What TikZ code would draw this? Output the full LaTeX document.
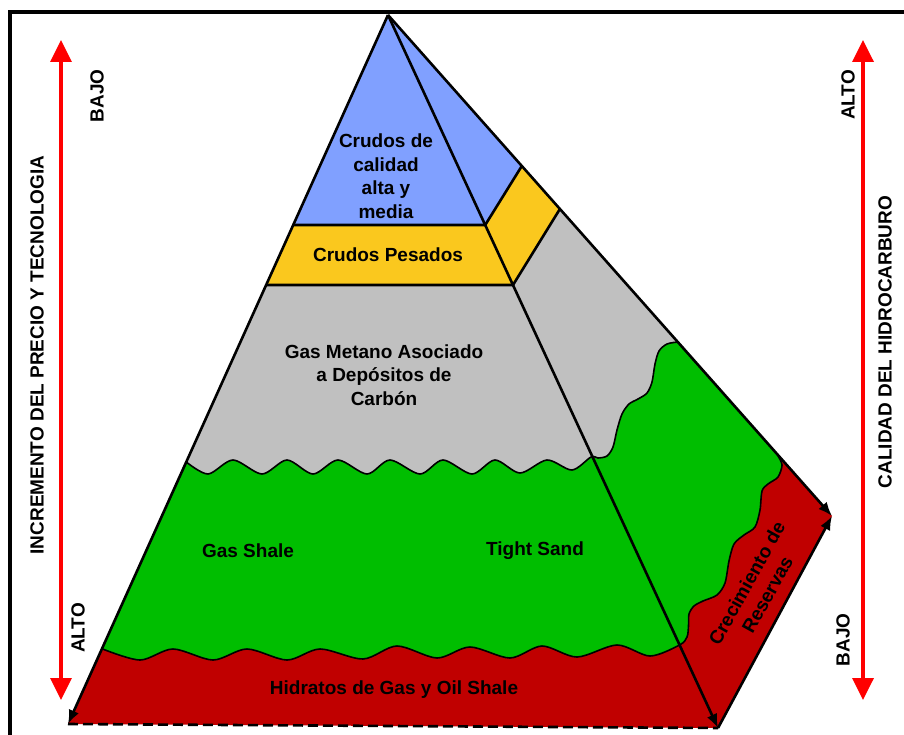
\documentclass[tikz,border=0pt]{standalone}
\usepackage{fontspec}
\setmainfont{Liberation Sans}
\usetikzlibrary{arrows.meta}
\definecolor{cblue}{RGB}{128,160,255}
\definecolor{cyellow}{RGB}{250,200,30}
\definecolor{cgray}{RGB}{192,192,192}
\definecolor{cgreen}{RGB}{0,190,0}
\definecolor{cred}{RGB}{192,0,0}
\definecolor{carrow}{RGB}{255,0,0}
\begin{document}
\begin{tikzpicture}[x=1pt,y=-1pt,
  lbl/.style={font=\fontsize{19}{23.5}\selectfont\bfseries, align=center, inner sep=0pt},
  edge/.style={line width=2.6pt, line join=round},
  edgearrow/.style={edge, -{Latex[length=14pt,width=11pt]}},
  wave/.style={line width=1.6pt, line join=round},
  redarrow/.style={draw=carrow, line width=3.5pt, {Triangle[length=22pt,width=21pt]}-{Triangle[length=22pt,width=21pt]}},
  frameline/.style={line width=4pt}]
\useasboundingbox (0,0) rectangle (904,735);
\fill[white] (0,0) rectangle (904,735);
% frame
\draw[frameline] (10,740) -- (10,12) -- (910,12);
% key points
\coordinate (apex) at (388,15);
\coordinate (L) at (68,724);
\coordinate (M) at (718,728);
\coordinate (R) at (832,516);
% layered fills
\fill[cred] (apex) -- (L) -- (M) -- (R) -- cycle;
\fill[cgreen] (apex) -- (102.6,649) -- plot[smooth] coordinates {(102.6,649) (140,660) (173,649) (213,660) (247,649) (287,660) (320,649) (363,659) (397,646) (437,658) (470,647) (510,658) (542,646) (577,657) (617,645) (650,656) (679.5,645) (687,637) (688.5,626) (689,614) (694,606) (703,601) (717,595) (725,583) (729,561) (734,544) (744,535) (755,527) (760,510) (762,491) (768,484) (778,477) (782,465) (778,456)} -- cycle;
\fill[cgray] (apex) -- (186.3,462) -- plot[smooth] coordinates {(186.3,462) (208,474) (233,460) (262,474) (287,460) (313,474) (338,460) (367,474) (390,460) (420,474) (443,460) (472,474) (495,460) (520,473) (547,460) (572,470) (591,457) (598,458) (607,456) (613,447) (617,430) (622,414) (629,404) (638,399) (647,393) (652,382) (655,364) (659,351) (667,344) (677.8,342)} -- cycle;
\fill[cyellow] (apex) -- (266.1,285) -- (513,285) -- (559.9,209) -- cycle;
\fill[cblue] (apex) -- (293.2,225) -- (485.2,225) -- (521.8,166) -- cycle;
% wave outlines
\draw[wave] plot[smooth] coordinates {(102.6,649) (140,660) (173,649) (213,660) (247,649) (287,660) (320,649) (363,659) (397,646) (437,658) (470,647) (510,658) (542,646) (577,657) (617,645) (650,656) (679.5,645) (687,637) (688.5,626) (689,614) (694,606) (703,601) (717,595) (725,583) (729,561) (734,544) (744,535) (755,527) (760,510) (762,491) (768,484) (778,477) (782,465) (778,456)};
\draw[wave] plot[smooth] coordinates {(186.3,462) (208,474) (233,460) (262,474) (287,460) (313,474) (338,460) (367,474) (390,460) (420,474) (443,460) (472,474) (495,460) (520,473) (547,460) (572,470) (591,457) (598,458) (607,456) (613,447) (617,430) (622,414) (629,404) (638,399) (647,393) (652,382) (655,364) (659,351) (667,344) (677.8,342)};
% band lines
\draw[edge] (293.2,225) -- (485.2,225) -- (521.8,166);
\draw[edge] (266.1,285) -- (513,285) -- (559.9,209);
% pyramid edges
\draw[edge, dashed, dash pattern=on 10pt off 5pt] (L) -- (M);
\draw[edgearrow] (apex) -- (L);
\draw[edgearrow] (apex) -- (M);
\draw[edgearrow] (apex) -- (R);
\draw[edgearrow] (M) -- (R);
% red arrows
\coordinate (la1) at (61,40);
\coordinate (la2) at (61,700);
\coordinate (ra1) at (863,40);
\coordinate (ra2) at (863,700);
\draw[redarrow] (la1) -- (la2);
\draw[redarrow] (ra1) -- (ra2);
% labels
\node[lbl] (t1) at (386,176) {Crudos de\\calidad\\alta y\\media};
\node[lbl] (t2) at (388,255) {Crudos Pesados};
\node[lbl] (t3) at (384,375) {Gas Metano Asociado\\a Depósitos de\\Carbón};
\node[lbl] (t4) at (248,551) {Gas Shale};
\node[lbl] (t5) at (535,551) {Tight Sand};
\node[lbl] (t6) at (394,690) {Hidratos de Gas y Oil Shale};
\node[lbl, rotate=61] (t7) at (757,589) {Crecimiento de\\Reservas};
\node[lbl, rotate=90] (t8) at (37,355) {INCREMENTO DEL PRECIO Y TECNOLOGIA};
\node[lbl, rotate=90] (t9) at (97,96) {BAJO};
\node[lbl, rotate=90] (t10) at (78,628) {ALTO};
\node[lbl, rotate=90] (t11) at (885,342) {CALIDAD DEL HIDROCARBURO};
\node[lbl, rotate=90] (t12) at (848,95) {ALTO};
\node[lbl, rotate=90] (t13) at (843,640) {BAJO};
\end{tikzpicture}
\end{document}
